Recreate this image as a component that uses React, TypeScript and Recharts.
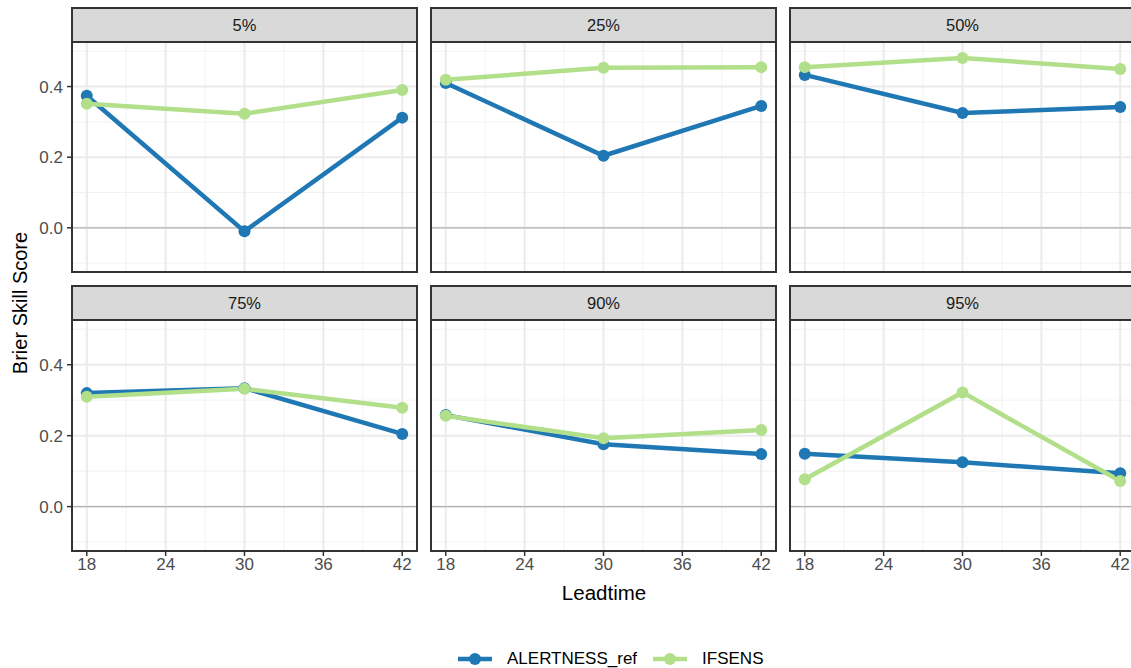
import { LineChart, Line, XAxis, YAxis, ReferenceLine } from "recharts"

// Brier skill score per threshold quantile, at lead times 18 / 30 / 42 h
const leadtimes = [18, 30, 42]
const quantiles = ["5%", "25%", "50%", "75%", "90%", "95%"]
const alertnessRef = [
  [0.374, -0.01, 0.312],
  [0.41, 0.204, 0.345],
  [0.433, 0.325, 0.342],
  [0.32, 0.334, 0.205],
  [0.258, 0.176, 0.148],
  [0.149, 0.125, 0.094],
]
const ifsens = [
  [0.351, 0.323, 0.39],
  [0.419, 0.453, 0.455],
  [0.455, 0.481, 0.45],
  [0.31, 0.332, 0.279],
  [0.256, 0.193, 0.216],
  [0.077, 0.322, 0.072],
]
const seriesNames = ["ALERTNESS_ref", "IFSENS"]
const seriesColors = ["#1f78b4", "#b2df8a"]

const xTicks = [18, 24, 30, 36, 42]
const xMinor = [21, 27, 33, 39]
const yTicks = [0, 0.2, 0.4]
const yMinor = [-0.1, 0.1, 0.3, 0.5]

const FONT = "'Liberation Sans', Arial, sans-serif"
const PANEL_W = 347
const STRIP_H = 34
const Y_AXIS_W = 45
const X_AXIS_H = 30
const colLeft = [71, 430, 789]
const rowTop = [41, 319]
const rowH = [232, 233]

const tickStyle = { fill: "#4d4d4d", fontSize: 17, fontFamily: FONT }

function Panel({ index }: { index: number }) {
  const col = index % 3
  const row = Math.floor(index / 3)
  const data = leadtimes.map((lt, i) => ({
    leadtime: lt,
    ALERTNESS_ref: alertnessRef[index][i],
    IFSENS: ifsens[index][i],
  }))
  const left = colLeft[col]
  const top = rowTop[row]
  const h = rowH[row]
  return (
    <>
      <div
        style={{
          position: "absolute",
          left,
          top: top - STRIP_H,
          width: PANEL_W,
          height: STRIP_H,
          boxSizing: "border-box",
          border: "2px solid #333",
          borderBottom: "none",
          background: "#d9d9d9",
          color: "#1a1a1a",
          fontSize: 16.5,
          fontFamily: FONT,
          display: "flex",
          alignItems: "center",
          justifyContent: "center",
        }}
      >
        {quantiles[index]}
      </div>
      <div style={{ position: "absolute", left: left - Y_AXIS_W, top }}>
        <LineChart
          width={PANEL_W + Y_AXIS_W}
          height={h + X_AXIS_H}
          data={data}
          margin={{ top: 0, right: 0, bottom: 0, left: 0 }}
        >
          {xMinor.map((v) => (
            <ReferenceLine key={"xm" + v} x={v} stroke="#f2f2f2" strokeWidth={1} />
          ))}
          {yMinor.map((v) => (
            <ReferenceLine key={"ym" + v} y={v} stroke="#f2f2f2" strokeWidth={1} />
          ))}
          {xTicks.map((v) => (
            <ReferenceLine key={"x" + v} x={v} stroke="#ebebeb" strokeWidth={2} />
          ))}
          {yTicks.map((v) => (
            <ReferenceLine key={"y" + v} y={v} stroke="#ebebeb" strokeWidth={2} />
          ))}
          <ReferenceLine y={0} stroke="#b3b3b3" strokeWidth={1.2} />
          <XAxis
            type="number"
            dataKey="leadtime"
            domain={[16.8, 43.2]}
            ticks={xTicks}
            interval={0}
            allowDataOverflow
            height={X_AXIS_H}
            axisLine={false}
            tick={row === 1 ? tickStyle : false}
            tickLine={row === 1 ? { stroke: "#333", strokeWidth: 1.5 } : false}
            tickSize={4}
            tickMargin={2}
          />
          <YAxis
            type="number"
            domain={[-0.128, 0.529]}
            ticks={yTicks}
            interval={0}
            allowDataOverflow
            width={Y_AXIS_W}
            axisLine={false}
            tick={col === 0 ? tickStyle : false}
            tickLine={col === 0 ? { stroke: "#333", strokeWidth: 1.5 } : false}
            tickSize={4}
            tickMargin={4}
            tickFormatter={(v: number) => v.toFixed(1)}
          />
          {seriesNames.map((name, i) => (
            <Line
              key={name}
              dataKey={name}
              stroke={seriesColors[i]}
              strokeWidth={4.5}
              dot={{ r: 6, fill: seriesColors[i], stroke: "none" }}
              activeDot={false}
              isAnimationActive={false}
            />
          ))}
        </LineChart>
      </div>
      <div
        style={{
          position: "absolute",
          left,
          top,
          width: PANEL_W,
          height: h,
          boxSizing: "border-box",
          border: "2px solid #333",
          pointerEvents: "none",
        }}
      />
    </>
  )
}

function LegendKey() {
  return (
    <div
      style={{
        position: "absolute",
        left: 458,
        top: 649,
        height: 20,
        display: "flex",
        alignItems: "center",
        fontFamily: FONT,
        fontSize: 17,
        color: "#000",
      }}
    >
      {seriesNames.map((name, i) => (
        <div key={name} style={{ display: "flex", alignItems: "center", marginRight: 16 }}>
          <svg width={34} height={20} style={{ marginRight: 15 }}>
            <line x1={0} y1={10} x2={34} y2={10} stroke={seriesColors[i]} strokeWidth={4.5} />
            <circle cx={17} cy={10} r={6} fill={seriesColors[i]} />
          </svg>
          <span>{name}</span>
        </div>
      ))}
    </div>
  )
}

export default function App() {
  return (
    <div
      style={{
        position: "absolute",
        left: 0,
        top: 0,
        width: 1131,
        height: 668,
        overflow: "hidden",
        background: "#fff",
        fontFamily: FONT,
      }}
    >
      {quantiles.map((q, i) => (
        <Panel key={q} index={i} />
      ))}
      <div
        style={{
          position: "absolute",
          left: 20,
          top: 303,
          transform: "translate(-50%, -50%) rotate(-90deg)",
          fontSize: 20,
          whiteSpace: "nowrap",
          color: "#000",
        }}
      >
        Brier Skill Score
      </div>
      <div
        style={{
          position: "absolute",
          left: 604,
          top: 593,
          transform: "translate(-50%, -50%)",
          fontSize: 20.5,
          whiteSpace: "nowrap",
          color: "#000",
        }}
      >
        Leadtime
      </div>
      <LegendKey />
    </div>
  )
}
